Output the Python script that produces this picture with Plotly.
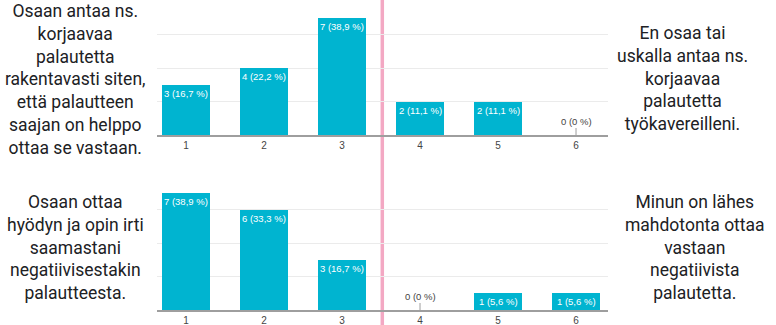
import plotly.graph_objects as go

categories = [1, 2, 3, 4, 5, 6]
counts_top = [3, 4, 7, 2, 2, 0]
counts_bottom = [7, 6, 3, 0, 1, 1]
left_top_text = ["Osaan antaa ns.", "korjaavaa", "palautetta", "rakentavasti siten,",
                 "että palautteen", "saajan on helppo", "ottaa se vastaan."]
right_top_text = ["En osaa tai", "uskalla antaa ns.", "korjaavaa", "palautetta",
                  "työkavereilleni."]
left_bottom_text = ["Osaan ottaa", "hyödyn ja opin irti", "saamastani",
                    "negatiivisestakin", "palautteesta."]
right_bottom_text = ["Minun on lähes", "mahdotonta ottaa", "vastaan",
                     "negatiivista", "palautetta."]

W, H = 776, 325
BAR = "#00b4d0"
CHART_FONT = "Arial, Liberation Sans, sans-serif"


def label(v, total):
    pct = f"{100 * v / total:.1f}".replace(".", ",")
    if pct.endswith(",0"):
        pct = pct[:-2]
    return f"{v} ({pct} %)"


def px_x(p):
    return p / W


def px_y(p):
    return 1 - p / H


fig = go.Figure()

for counts, xa, ya in [(counts_top, "x", "y"), (counts_bottom, "x2", "y2")]:
    total = sum(counts)
    fig.add_trace(go.Bar(
        x=categories, y=counts, xaxis=xa, yaxis=ya,
        marker=dict(color=BAR, line=dict(width=0)), width=0.615,
        showlegend=False, hoverinfo="skip",
    ))
    for c, v in zip(categories, counts):
        if v == 0:
            fig.add_annotation(
                x=c, y=0, xref=xa, yref=ya, text=label(v, total),
                showarrow=True, arrowhead=0, arrowwidth=1, arrowcolor="#9e9e9e",
                ax=0, ay=-14, standoff=0,
                font=dict(size=9.5, color="#444", family=CHART_FONT),
            )
        else:
            fig.add_annotation(
                x=c, y=v, xref=xa, yref=ya, text=label(v, total),
                showarrow=False, xanchor="center", yanchor="top", yshift=-1,
                font=dict(size=9.5, color="white", family=CHART_FONT),
            )

xdom = [px_x(157), px_x(608)]
xaxis_common = dict(
    domain=xdom, range=[0.628, 6.41], tickvals=categories,
    showgrid=False, showline=True, linecolor="#9e9e9e", linewidth=1.5,
    ticks="", tickfont=dict(size=10, color="#444", family=CHART_FONT),
    zeroline=False, fixedrange=True,
)
yaxis_common = dict(
    range=[0, 8], tickvals=[2, 4, 6], showticklabels=False,
    showgrid=True, gridcolor="#ebebeb", gridwidth=1, zeroline=False, fixedrange=True,
)

fig.update_layout(
    width=W, height=H, margin=dict(l=0, r=0, t=0, b=0),
    paper_bgcolor="white", plot_bgcolor="white", bargap=0,
    xaxis=dict(anchor="y", **xaxis_common),
    yaxis=dict(anchor="x", domain=[px_y(135), px_y(1)], **yaxis_common),
    xaxis2=dict(anchor="y2", **xaxis_common),
    yaxis2=dict(anchor="x2", domain=[px_y(310), px_y(176)], **yaxis_common),
)

TEXT_FONT = dict(family="Roboto, Arial, sans-serif", size=17.5, color="#202124")
for lines, cx, cy in [(left_top_text, 75, 79.5), (right_top_text, 682, 78),
                      (left_bottom_text, 75, 247), (right_bottom_text, 695, 247)]:
    fig.add_annotation(
        x=px_x(cx), y=px_y(cy), xref="paper", yref="paper",
        text="<br>".join(lines), showarrow=False, align="center",
        xanchor="center", yanchor="middle", font=TEXT_FONT,
    )

fig.add_shape(type="line", xref="paper", yref="paper",
              x0=px_x(382.3), x1=px_x(382.3), y0=0, y1=1,
              line=dict(color="#f3a8c3", width=3.5), layer="below")

fig.write_html("out.html")
